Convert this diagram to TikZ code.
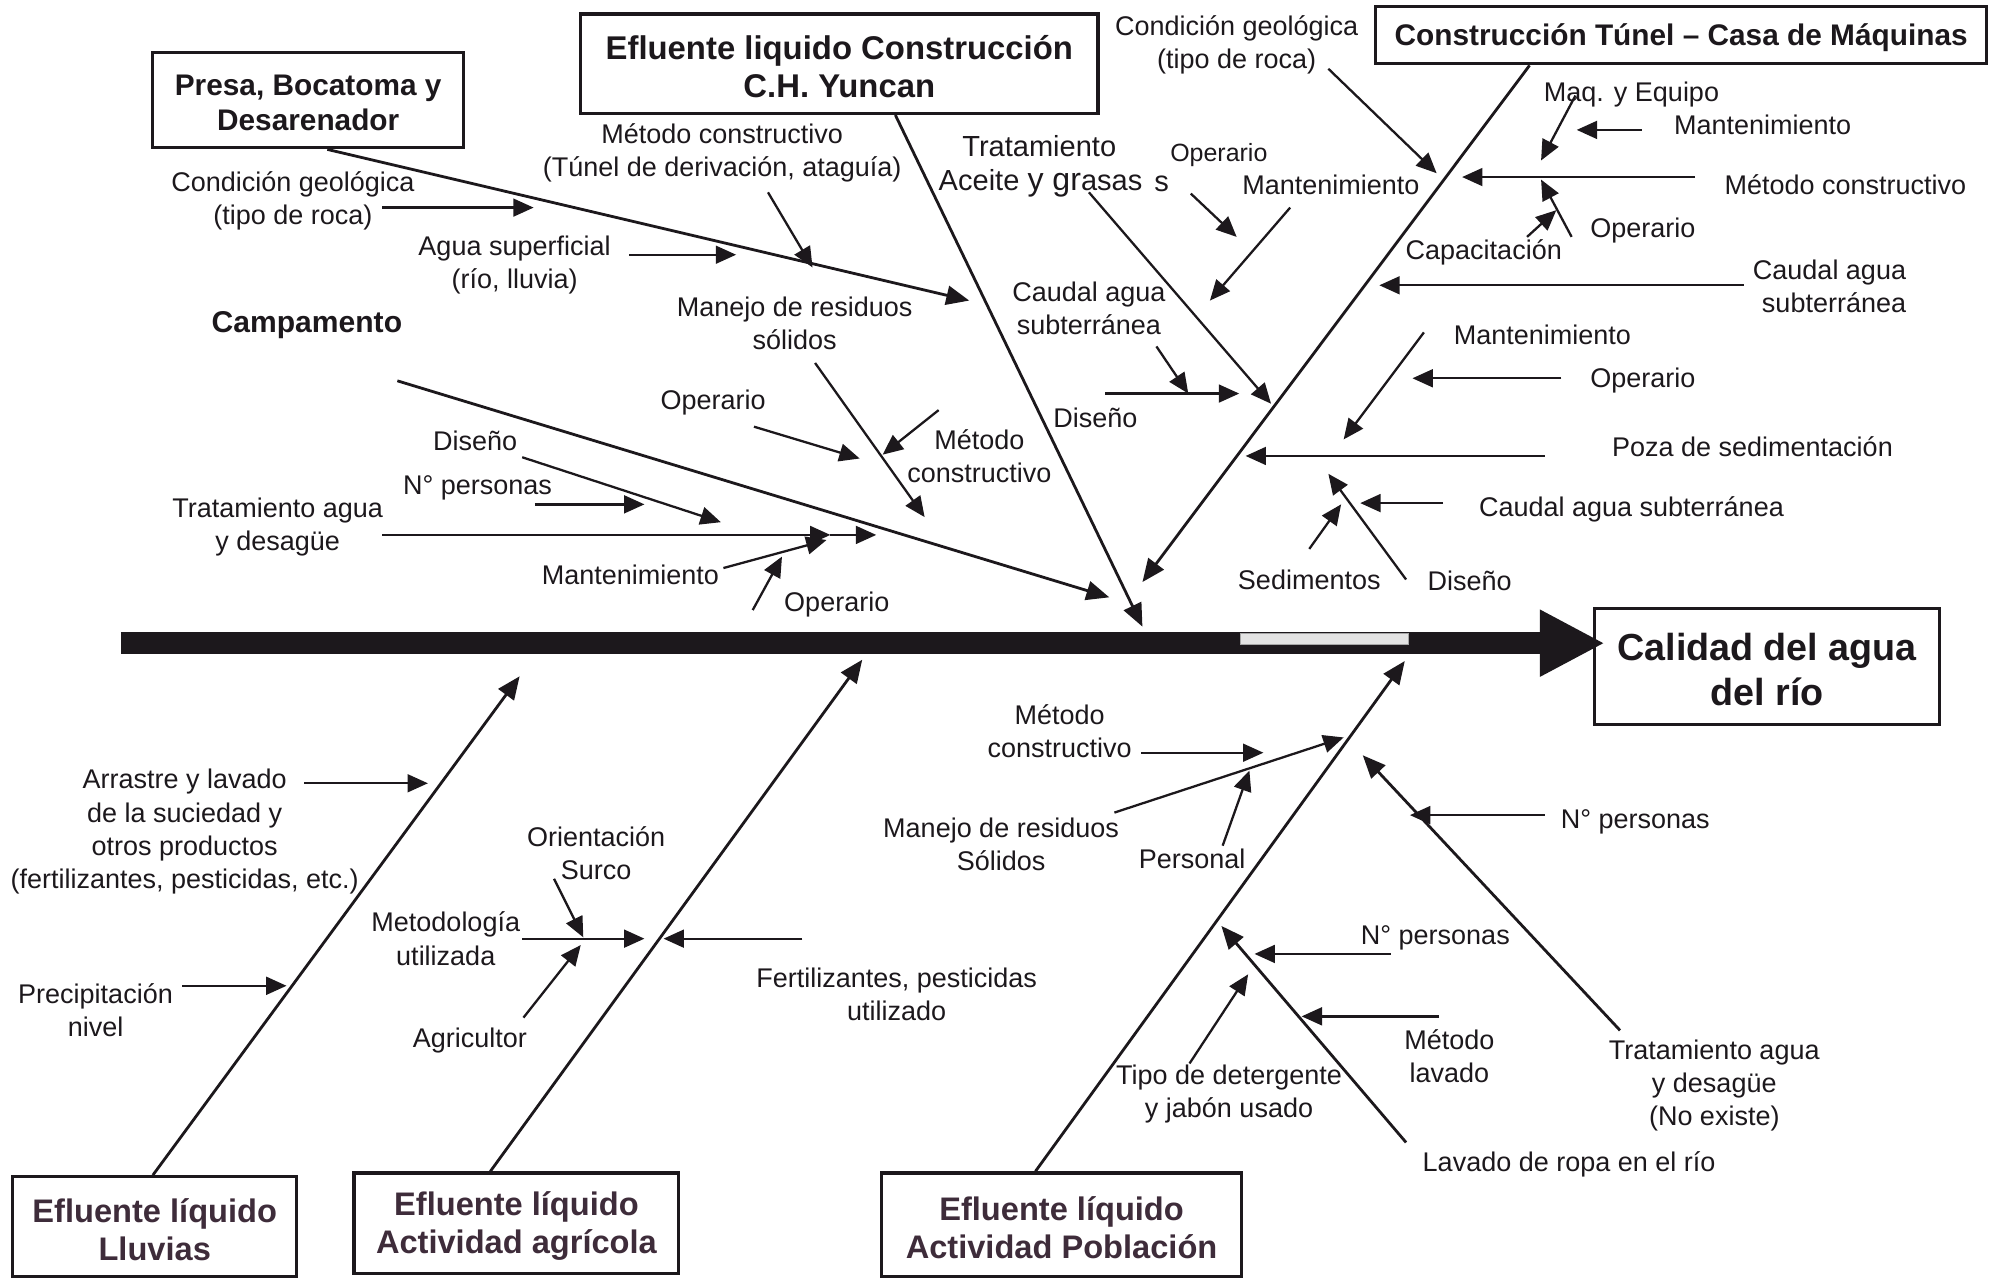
\documentclass[tikz,border=0pt]{standalone}
\usepackage{fontspec}
\setmainfont{Liberation Sans}
\usetikzlibrary{arrows.meta}
\definecolor{ink}{RGB}{28,24,28}
\definecolor{boxink}{RGB}{62,44,58}
\newcommand\arw[3]{%
  \coordinate (#1s) at (#2);
  \coordinate (#1e) at (#3);
  \draw[twig] (#1s) -- (#1e);}
\begin{document}
\begin{tikzpicture}[x=0.5pt,y=-0.5pt,
  lbl/.style={font=\fontsize{10.6}{13}\selectfont, align=center, inner sep=0pt, text=ink, yshift=-1pt},
  cause/.style={draw=ink, line width=1.3pt, inner sep=0pt},
  causetext/.style={align=center, inner sep=0pt, text=ink, yshift=-1.2pt},
  bone/.style={draw=ink, line width=1.1pt, -{Triangle[length=9pt,width=7.5pt]}},
  twig/.style={draw=ink, line width=0.9pt, -{Triangle[length=8pt,width=7pt]}},
]
\useasboundingbox (0,0) rectangle (1568,1003);

% ---------- cause boxes ----------
\node[cause, minimum width=122pt, minimum height=37.5pt] (presa) at (242,78.5) {};
\node[causetext, font=\bfseries\fontsize{11.7}{13.5}\selectfont] (presaTxt) at (presa) {Presa, Bocatoma y\\Desarenador};
\node[cause, minimum width=203pt, minimum height=39pt] (yuncan) at (659,50) {};
\node[causetext, font=\bfseries\fontsize{12.9}{15}\selectfont] (yuncanTxt) at (yuncan) {Efluente liquido Construcción\\C.H. Yuncan};
\node[cause, minimum width=240pt, minimum height=22.5pt] (tunel) at (1320,27.5) {};
\node[causetext, font=\bfseries\fontsize{11.7}{13.5}\selectfont] (tunelTxt) at (tunel) {Construcción Túnel – Casa de Máquinas};
\node[cause, minimum width=135.5pt, minimum height=45.5pt] (calidad) at (1387.5,523.5) {};
\node[causetext, font=\bfseries\fontsize{14.8}{17.5}\selectfont] (calidadTxt) at (calidad) {Calidad del agua\\del río};
\node[cause, minimum width=111.5pt, minimum height=39pt] (lluvias) at (121.5,963) {};
\node[causetext, text=boxink, font=\bfseries\fontsize{12.8}{15}\selectfont] (lluviasTxt) at (lluvias) {Efluente líquido\\Lluvias};
\node[cause, minimum width=127.5pt, minimum height=39.5pt] (agricola) at (405.5,960.5) {};
\node[causetext, text=boxink, font=\bfseries\fontsize{12.8}{15}\selectfont] (agricolaTxt) at (agricola) {Efluente líquido\\Actividad agrícola};
\node[cause, minimum width=141.5pt, minimum height=40.5pt] (poblacion) at (833.5,961.5) {};
\node[causetext, text=boxink, font=\bfseries\fontsize{12.8}{15}\selectfont] (poblacionTxt) at (poblacion) {Efluente líquido\\Actividad Población};

% ---------- spine ----------
\coordinate (spL) at (95,505);
\coordinate (spR) at (1260,505);
\draw[draw=ink, line width=8.5pt, -{Triangle[length=25.5pt,width=24.5pt]}] (spL) -- (spR);
\filldraw[fill=gray!22, draw=gray!70, line width=0.3pt] (974,497) rectangle (1106,506);

% ---------- main bones ----------
\coordinate (presaT) at (761,236);
\coordinate (campA) at (312,299);
\coordinate (campT) at (871,469);
\coordinate (yunT) at (897,492);
\coordinate (tunT) at (897,457);
\coordinate (llT) at (408,531);
\coordinate (agT) at (677,518);
\coordinate (poT) at (1103,519);
\coordinate (trA) at (1272,809);
\coordinate (trT) at (1070,593);
\coordinate (lavA) at (1104,897);
\coordinate (lavT) at (959,727);
\draw[bone] ([xshift=7.5pt]presa.south) -- (presaT);
\draw[bone] (campA) -- (campT);
\draw[bone] ([xshift=22pt]yuncan.south) -- (yunT);
\draw[bone] ([xshift=-59.5pt]tunel.south) -- (tunT);
\draw[bone] ([xshift=-0.75pt]lluvias.north) -- (llT);
\draw[bone] ([xshift=-10.25pt]agricola.north) -- (agT);
\draw[bone] ([xshift=-10.25pt]poblacion.north) -- (poT);
\draw[bone] (trA) -- (trT);
\draw[bone] (lavA) -- (lavT);

% ---------- Presa, Bocatoma y Desarenador ----------
\node[lbl] (cg1) at (230,156) {Condición geológica\\(tipo de roca)};
\node[lbl] (as1) at (404,206) {Agua superficial\\(río, lluvia)};
\node[lbl] (mc1) at (567,118) {Método constructivo\\(Túnel de derivación, ataguía)};
\arw{a1}{300,163}{419,163}
\arw{a2}{494,200}{578,200}
\arw{a3}{603,151}{638,210}

% ---------- Campamento ----------
\node[lbl, font=\bfseries\fontsize{11.8}{14}\selectfont] (camp) at (241,253) {Campamento};
\node[lbl] (dis1) at (373,344) {Diseño};
\node[lbl] (np1) at (375,381) {N° personas};
\node[lbl] (ta1) at (218,412) {Tratamiento agua\\y desagüe};
\node[lbl] (man1) at (495,449) {Mantenimiento};
\node[lbl] (op1) at (657,473) {Operario};
\node[lbl] (op2) at (560,314) {Operario};
\node[lbl] (mr1) at (624,252) {Manejo de residuos\\sólidos};
\node[lbl] (mc2) at (769,356) {Método\\constructivo};
\arw{b1}{410,359}{566,410}
\arw{b2}{420,396}{506,396}
\arw{b3}{300,420}{652,420}
\arw{b4}{652,420}{688,420}
\arw{b5}{568,446}{649,424}
\arw{b6}{591,479}{614,437}
\arw{b7}{592,335}{675,360}
\arw{b8}{640,285}{726,406}
\arw{b9}{737,322}{693,357}

% ---------- Efluente C.H. Yuncan ----------
\node[lbl, font=\fontsize{11.4}{14}\selectfont] (trat) at (816,113) {Tratamiento};
\node[lbl, font=\fontsize{11.4}{14}\selectfont] (ace) at (817,142) {Aceite {\fontsize{12.6}{14}\selectfont y gr}asas};
\node[lbl, font=\fontsize{11.4}{14}\selectfont] (ess) at (912,142) {s};
\node[lbl, font=\fontsize{9.8}{12}\selectfont] (opS) at (957,120) {Operario};
\node[lbl] (manY) at (1045,143) {Mantenimiento};
\node[lbl] (cau1) at (855,240) {Caudal agua\\subterránea};
\node[lbl] (disY) at (860,326) {Diseño};
\arw{c1}{855,151}{998,317}
\arw{c2}{935,152}{971,186}
\arw{c3}{1013,163}{950,236}
\arw{c4}{908,272}{933,309}
\arw{c5}{868,309}{973,309}

% ---------- Construccion Tunel - Casa de Maquinas ----------
\node[lbl] (cg2) at (971,33) {Condición geológica\\(tipo de roca)};
\node[lbl] (maq) at (1281,72) {Maq. y Equipo};
\node[lbl] (manT) at (1384,96) {Mantenimiento};
\node[lbl] (mcT) at (1449,143) {Método constructivo};
\node[lbl] (opT) at (1290,179) {Operario};
\node[lbl] (cap) at (1165,196) {Capacitación};
\node[lbl, align=right, anchor=east] (cau2) at (1497,223) {Caudal agua\\subterránea};
\node[lbl] (manT2) at (1211,261) {Mantenimiento};
\node[lbl] (opT2) at (1290,297) {Operario};
\node[lbl] (poza) at (1376,349) {Poza de sedimentación};
\node[lbl] (cau3) at (1281,398) {Caudal agua subterránea};
\node[lbl] (sed) at (1028,453) {Sedimentos};
\node[lbl] (disT) at (1154,454) {Diseño};
\arw{d1}{1043,54}{1128,136}
\arw{d2}{1237,75}{1210,126}
\arw{d3}{1289,102}{1238,102}
\arw{d4}{1331,139}{1148,139}
\arw{d5}{1234,186}{1210,141}
\arw{d6}{1199,186}{1222,165}
\arw{d7}{1369,224}{1083,224}
\arw{d8}{1118,261}{1055,345}
\arw{d9}{1226,297}{1109,297}
\arw{d10}{1213,358}{978,358}
\arw{d11}{1133,395}{1068,395}
\arw{d12}{1028,431}{1053,396}
\arw{d13}{1104,455}{1043,372}

% ---------- Lluvias and Actividad agricola ----------
\node[lbl] (arr) at (145,651) {Arrastre y lavado\\de la suciedad y\\otros productos\\(fertilizantes, pesticidas, etc.)};
\node[lbl] (prec) at (75,791) {Precipitación\\nivel};
\node[lbl] (ori) at (468,668) {Orientación\\Surco};
\node[lbl] (met) at (350,735) {Metodología\\utilizada};
\node[lbl] (agr) at (369,815) {Agricultor};
\node[lbl] (fert) at (704,779) {Fertilizantes, pesticidas\\utilizado};
\arw{e1}{239,615}{336,615}
\arw{e2}{143,774}{225,774}
\arw{e3}{435,690}{458,736}
\arw{e4}{410,737}{506,737}
\arw{e5}{411,799}{456,742}
\arw{e6}{630,737}{521,737}

% ---------- Actividad Poblacion ----------
\node[lbl] (mcP) at (832,572) {Método\\constructivo};
\node[lbl] (mrP) at (786,661) {Manejo de residuos\\Sólidos};
\node[lbl] (per) at (936,672) {Personal};
\node[lbl] (npP) at (1284,643) {N° personas};
\node[lbl] (trP) at (1346,850) {Tratamiento agua\\y desagüe\\(No existe)};
\node[lbl] (np2) at (1127,734) {N° personas};
\node[lbl] (ml) at (1138,827) {Método\\lavado};
\node[lbl] (tipo) at (965,857) {Tipo de detergente\\y jabón usado};
\node[lbl] (lav) at (1232,912) {Lavado de ropa en el río};
\arw{f1}{896,591}{992,591}
\arw{f2}{875,638}{1055,579}
\arw{f3}{960,664}{981,605}
\arw{f4}{1213,640}{1107,640}
\arw{f5}{1092,749}{985,749}
\arw{f6}{1130,798}{1022,798}
\arw{f7}{934,835}{980,765}
\end{tikzpicture}
\end{document}
